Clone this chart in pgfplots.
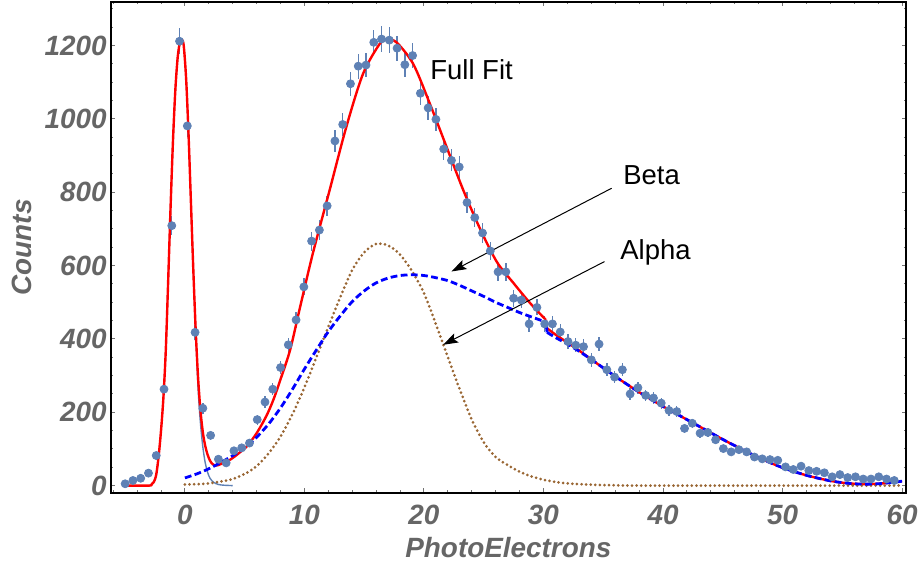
\documentclass[border=0pt]{standalone}
\usepackage{fontspec}
\setmainfont{Liberation Sans}
\usepackage{pgfplots}
\usepackage{pgfplotstable}
\pgfplotsset{compat=1.18}
\usetikzlibrary{arrows.meta}
\definecolor{ptblue}{HTML}{5E81B5}
\definecolor{alphabrown}{HTML}{996633}

% binned spectrum: x, counts, error
\pgfplotstableread{
x y e
-5.00 5 2.2
-4.35 14 3.7
-3.70 20 4.5
-3.05 34 5.8
-2.40 82 9.1
-1.75 263 16.2
-1.10 709 26.6
-0.45 1212 34.8
0.20 981 31.3
0.85 418 20.4
1.50 211 14.5
2.15 137 11.7
2.80 72 8.5
3.45 62 7.9
4.10 95 9.7
4.75 103 10.1
5.40 116 10.8
6.05 180 13.4
6.70 228 15.1
7.35 263 16.2
8.00 322 17.9
8.65 384 19.6
9.30 452 21.3
9.95 542 23.3
10.60 667 25.8
11.25 697 26.4
11.90 763 27.6
12.55 940 30.7
13.20 985 31.4
13.85 1096 33.1
14.50 1144 33.8
15.15 1147 33.9
15.80 1209 34.8
16.45 1218 34.9
17.10 1215 34.9
17.75 1193 34.5
18.40 1148 33.9
19.05 1173 34.2
19.70 1070 32.7
20.35 1030 32.1
21.00 999 31.6
21.65 918 30.3
22.30 887 29.8
22.95 869 29.5
23.60 772 27.8
24.25 731 27.0
24.90 689 26.2
25.55 640 25.3
26.20 583 24.1
26.85 583 24.1
27.50 511 22.6
28.15 506 22.5
28.80 441 21.0
29.45 486 22.0
30.10 441 21.0
30.75 441 21.0
31.40 419 20.5
32.05 393 19.8
32.70 383 19.6
33.35 379 19.5
34.00 343 18.5
34.65 386 19.6
35.30 316 17.8
35.95 296 17.2
36.60 316 17.8
37.25 250 15.8
37.90 267 16.3
38.55 246 15.7
39.20 239 15.5
39.85 225 15.0
40.50 205 14.3
41.15 202 14.2
41.80 156 12.5
42.45 170 13.0
43.10 143 12.0
43.75 145 12.0
44.40 125 11.2
45.05 101 10.0
45.70 92 9.6
46.35 98 9.9
47.00 92 9.6
47.65 78 8.8
48.30 73 8.5
48.95 71 8.4
49.60 69 8.3
50.25 51 7.1
50.90 44 6.6
51.55 53 7.3
52.20 41 6.4
52.85 39 6.2
53.50 35 5.9
54.15 24 4.9
54.80 30 5.5
55.45 22 4.7
56.10 24 4.9
56.75 18 4.2
57.40 18 4.2
58.05 24 4.9
58.70 18 4.2
59.35 14 3.7
}\pedata

\begin{document}
\begin{tikzpicture}
\begin{axis}[
    name=ax,
    scale only axis,
    width=398bp, height=245.5bp,
    xmin=-6.21, xmax=60.33,
    ymin=-19, ymax=1319,
    xtick={0,10,...,60},
    minor xtick={-6,-4,...,60},
    ytick={0,200,...,1200},
    minor ytick={0,50,...,1300},
    tick align=inside,
    major tick length=2.2bp,
    minor tick length=1.2bp,
    every tick/.style={black!55, line width=0.5bp},
    axis line style={line width=1bp, black},
    scaled ticks=false,
    /pgf/number format/assume math mode=true,
    /pgf/number format/1000 sep={},
    every tick label/.append style={font=\fontsize{14}{16}\selectfont\bfseries\itshape,
        text=black!60, inner sep=0pt, outer sep=0pt},
    xticklabel style={yshift=-6bp},
    yticklabel style={xshift=-2bp},
    xlabel={PhotoElectrons},
    ylabel={Counts},
    label style={font=\fontsize{14}{16}\selectfont\bfseries\itshape, text=black!60},
    xlabel style={at={(axis description cs:0.5,-0.112)}, anchor=center},
    ylabel style={at={(axis description cs:-0.1116,0.5)}, anchor=center},
]

% data with errors
\addplot[only marks, mark=*, mark size=2bp, color=ptblue,
    error bars/.cd, y dir=both, y explicit, error mark=none,
    error bar style={line width=0.7bp, color=ptblue}]
    table[x=x, y=y, y error=e] {\pedata};

% pedestal fit
\addplot[ptblue, line width=0.7bp, smooth] coordinates {
    (-3.0,0) (-2.8,3) (-2.6,10) (-2.4,30) (-2.2,80) (-2.0,150) (-1.8,240)
    (-1.6,370) (-1.4,560) (-1.2,760) (-1.0,940) (-0.8,1080) (-0.6,1170)
    (-0.4,1212) (-0.25,1216) (-0.1,1200) (0.1,1110) (0.3,960) (0.5,775)
    (0.7,590) (0.9,420) (1.1,265) (1.3,170) (1.5,105) (1.7,62) (1.9,36)
    (2.1,20) (2.4,9) (2.8,3) (3.3,1) (4.0,0)
};

% full fit
\addplot[red, line width=1.2bp, smooth] coordinates {
    (-5.0,0) (-3.0,0) (-2.8,3) (-2.6,10) (-2.4,30) (-2.2,80) (-2.0,150)
    (-1.8,240) (-1.6,370) (-1.4,560) (-1.2,760) (-1.0,940) (-0.8,1080)
    (-0.6,1170) (-0.4,1212) (-0.25,1216) (-0.1,1200) (0.1,1110) (0.3,960)
    (0.5,775) (0.7,590) (0.9,425) (1.1,295) (1.3,205) (1.5,145) (1.7,108)
    (1.9,84) (2.1,68) (2.3,59) (2.5,55) (2.8,56) (3.2,62) (3.8,71) (4.5,88)
    (5.2,108) (6.0,143) (6.8,189) (7.4,234) (8.0,290) (8.8,370) (9.6,482)
    (10.7,633) (12.1,805) (13.5,978) (14.9,1123) (16.3,1205) (16.9,1216)
    (17.7,1209) (19.1,1150) (20.5,1041) (21.9,923) (23.3,805) (24.7,700)
    (26.1,610) (27.5,552) (28.9,497) (30.2,452)
};
\addplot[red, line width=1.2bp] coordinates {(30.2,452) (30.3,429)};
\addplot[red, line width=1.2bp, smooth] coordinates {
    (30.3,429) (31,412) (32,390) (33,368) (34,344) (35,321) (36,298) (37,276)
    (38,255) (39,235) (40,216) (41,198) (42,180) (43,162) (44,144) (45,126)
    (46,109) (47,92) (48,77) (49,62) (50,49) (51,38) (52,28) (53,20) (54,13)
    (55,8) (56,5) (57,4) (58,5) (59,8) (60,12)
};

% alpha component
\addplot[alphabrown, line width=1.5bp, line cap=round, dash pattern=on 0bp off 2.3bp, smooth] coordinates {
    (0,3) (1,4) (2,6) (3,11) (4,18) (5,32) (6,53) (7,88) (8,134) (9,195)
    (10,268) (11,350) (12,433) (13,514) (14,588) (15,636) (16,659) (17,655)
    (18,630) (19,585) (20,525) (21,440) (22,350) (23,262) (24,180) (25,118)
    (26,78) (27,56) (28,38) (29,25) (30,16) (31,10) (32,6) (33,4) (34,2.5)
    (35,1.5) (36,1) (38,0) (45,0) (52,0) (60,0)
};

% beta component
\addplot[blue, line width=1.4bp, dash pattern=on 3.4bp off 1.7bp, smooth] coordinates {
    (0,21) (1,32) (2,46) (3,63) (4,82) (5,103) (6,132) (7,168) (8,212) (9,263)
    (10,318) (11,370) (12,420) (13,463) (14,502) (15,531) (16,553) (17,566)
    (18,573) (19,575) (20,573) (21,567) (22,559) (23,546) (24,531) (25,516)
    (26,500) (27,486) (28,472) (29,460) (30.2,446)
};
\addplot[blue, line width=1.4bp] coordinates {(30.2,446) (30.3,418)};
\addplot[blue, line width=1.4bp, dash pattern=on 3.4bp off 1.7bp, smooth] coordinates {
    (30.3,418) (31,404) (32,386) (33,366) (34,344) (35,321) (36,298) (37,276)
    (38,255) (39,235) (40,216) (41,198) (42,180) (43,162) (44,144) (45,126)
    (46,109) (47,92) (48,77) (49,62) (50,49) (51,38) (52,28) (53,20) (54,13)
    (55,8) (56,5) (57,4) (58,5) (59,8) (60,12)
};

% annotations
\node[anchor=base west, inner sep=0pt, font=\fontsize{13.8}{16}\selectfont] at (axis cs:20.5,1107) {Full Fit};
\node[anchor=base west, inner sep=0pt, font=\fontsize{13.8}{16}\selectfont] at (axis cs:36.65,820) {Beta};
\node[anchor=base west, inner sep=0pt, font=\fontsize{13.8}{16}\selectfont] at (axis cs:36.4,616) {Alpha};
\draw[-{Stealth[length=7.5bp, width=5bp, inset=1.5bp]}, line width=0.5bp]
    (axis cs:35.7,811) -- (axis cs:22.3,584);
\draw[-{Stealth[length=7.5bp, width=5bp, inset=1.5bp]}, line width=0.5bp]
    (axis cs:35.1,611) -- (axis cs:21.6,384);
\end{axis}
\path ([shift={(-55.4bp,-40.5bp)}]ax.south west) rectangle ([shift={(7bp,1bp)}]ax.north east);
\end{tikzpicture}
\end{document}
